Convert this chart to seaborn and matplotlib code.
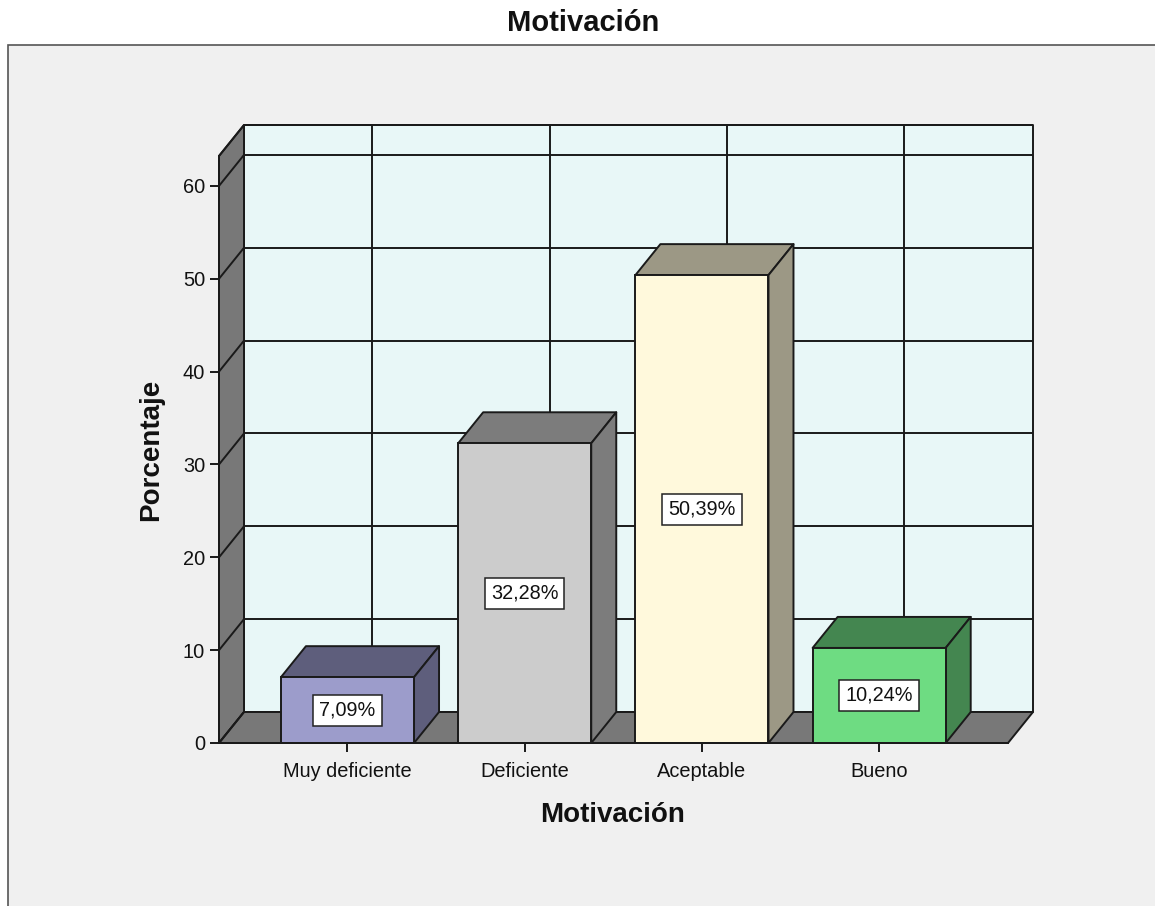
import matplotlib
matplotlib.use("Agg")
import matplotlib.pyplot as plt
import seaborn as sns
import pandas as pd
from matplotlib.patches import Polygon, Rectangle

categories = ["Muy deficiente", "Deficiente", "Aceptable", "Bueno"]
porcentaje = [7.09, 32.28, 50.39, 10.24]
etiquetas = ["7,09%", "32,28%", "50,39%", "10,24%"]
y_ticks = [0, 10, 20, 30, 40, 50, 60]

front_colors = ["#9C9CCB", "#CCCCCC", "#FFF9DC", "#6EDC82"]
dark_colors = ["#5E5E7C", "#7C7C7C", "#9C9885", "#448650"]

W, H = 1155, 906
LINE = "#1a1a1a"
WALL = "#E8F7F7"
GREY = "#787878"
PANEL = "#F0F0F0"
LW = 1.4

sns.set_theme(style="white")
plt.rcParams["font.family"] = ["Liberation Sans", "DejaVu Sans"]

fig = plt.figure(figsize=(W / 100, H / 100), dpi=100, facecolor="white")
# grey chart panel, runs off the right and bottom of the image
fig.add_artist(Rectangle((8 / W, -0.05), 1.1, 1 - 45 / H + 0.05, transform=fig.transFigure,
                         facecolor=PANEL, edgecolor="#555555", linewidth=1.2, zorder=-1))

ax = fig.add_axes([219 / W, 1 - 743 / H, 789 / W, 587 / H])
ax.patch.set_alpha(0)

df = pd.DataFrame({"Motivacion": categories, "Porcentaje": porcentaje})
sns.barplot(data=df, x="Motivacion", y="Porcentaje", hue="Motivacion", palette=front_colors,
            width=0.751, legend=False, saturation=1, ax=ax, zorder=4,
            edgecolor=LINE, linewidth=LW)

x0, x1 = -0.725, 3.727
y1 = 587 / 9.285
ax.set_xlim(x0, x1)
ax.set_ylim(0, y1)

# depth of the fake 3d box, in data units
dx = 25 / 789 * (x1 - x0)
dy = 31 / 587 * y1


def poly(pts, fc, z=1):
    ax.add_patch(Polygon(pts, closed=True, facecolor=fc, edgecolor=LINE, linewidth=LW,
                         zorder=z, clip_on=False, joinstyle="round"))


poly([(x0 + dx, dy), (x1 + dx, dy), (x1 + dx, y1 + dy), (x0 + dx, y1 + dy)], WALL)
poly([(x0, 0), (x0 + dx, dy), (x0 + dx, y1 + dy), (x0, y1)], GREY)
poly([(x0, 0), (x1, 0), (x1 + dx, dy), (x0 + dx, dy)], GREY)

# gridlines on back wall and side wall
grid = dict(color=LINE, lw=LW, zorder=1.5, clip_on=False, solid_capstyle="butt")
for v in y_ticks[1:] + [y1]:
    ax.plot([x0 + dx, x1 + dx], [v + dy, v + dy], **grid)
for v in y_ticks + [y1]:
    ax.plot([x0, x0 + dx], [v, v + dy], **grid)
for i in range(len(categories)):
    ax.plot([i + dx, i + dx], [dy, y1 + dy], **grid)

for i, bar in enumerate(ax.patches[:len(categories)]):
    left, right = bar.get_x(), bar.get_x() + bar.get_width()
    top = bar.get_height()
    poly([(left, top), (right, top), (right + dx, top + dy), (left + dx, top + dy)], dark_colors[i], 3)
    poly([(right, 0), (right + dx, dy), (right + dx, top + dy), (right, top)], dark_colors[i], 3)
    ax.text(i, top / 2, etiquetas[i], ha="center", va="center", fontsize=14.3, color="#111111", zorder=6,
            bbox=dict(boxstyle="square,pad=0.3", facecolor="white", edgecolor="#222222", linewidth=1.1))

sns.despine(ax=ax, top=True, right=True, left=False, bottom=False)
for side in ["left", "bottom"]:
    ax.spines[side].set_color(LINE)
    ax.spines[side].set_linewidth(LW)
    ax.spines[side].set_zorder(5)

ax.set_yticks(y_ticks)
ax.tick_params(axis="both", left=True, bottom=True, length=6.5, width=LW, color=LINE,
               labelsize=14.4, labelcolor="#111111")
ax.tick_params(axis="x", pad=7)
ax.tick_params(axis="y", pad=3.5)

ax.set_xlabel("Motivación", fontsize=20, fontweight="bold", color="#111111", va="center")
ax.xaxis.set_label_coords(0.4994, -72 / 587)
ax.set_ylabel("Porcentaje", fontsize=20, fontweight="bold", color="#111111", va="center")
ax.yaxis.set_label_coords(-68 / 789, 0.5)

fig.suptitle("Motivación", x=583 / W, y=1 - 23 / H, va="center", fontsize=21, fontweight="bold", color="#111111")

fig.savefig("out.png", dpi=100)
